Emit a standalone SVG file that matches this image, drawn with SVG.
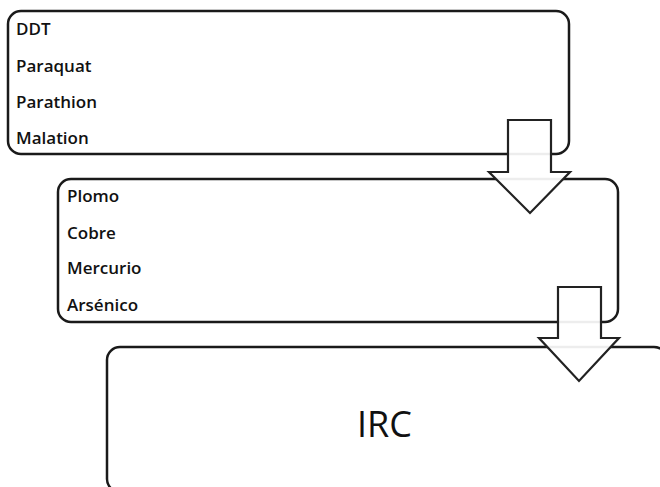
<svg xmlns="http://www.w3.org/2000/svg" width="660" height="487" viewBox="0 0 660 487">
<style>
.box{fill:#fff;stroke:#1a1a1a;stroke-width:2.5}
.lbl{font-family:"Open Sans","Liberation Sans",sans-serif;font-weight:600;font-size:17px;fill:#111}
.big{font-family:"Open Sans","Liberation Sans",sans-serif;font-size:36px;fill:#111}
.arr{fill:#fff;fill-opacity:0.92;stroke:#222;stroke-width:2.2;stroke-linejoin:miter}
</style>
<rect width="660" height="487" fill="#fff"/>
<g id="node-pesticidas">
<rect class="box" x="8" y="11" width="561" height="143" rx="13"/>
<text class="lbl" x="16" y="35">DDT</text>
<text class="lbl" x="16" y="72">Paraquat</text>
<text class="lbl" x="16" y="108">Parathion</text>
<text class="lbl" x="16" y="144">Malation</text>
</g>
<g id="node-metales">
<rect class="box" x="58" y="179" width="560" height="143" rx="13"/>
<text class="lbl" x="67" y="202">Plomo</text>
<text class="lbl" x="67" y="239">Cobre</text>
<text class="lbl" x="67" y="274">Mercurio</text>
<text class="lbl" x="67" y="311">Arsénico</text>
</g>
<g id="node-irc">
<rect class="box" x="107" y="347" width="560" height="145" rx="13"/>
<text class="big" x="357" y="437">IRC</text>
</g>
<g id="connectors">
<polygon class="arr" points="508,120 551,120 551,172 570,172 530,213 489,172 508,172"/>
<polygon class="arr" points="558,287 601,287 601,338 619,338 579,381 539,338 558,338"/>
</g>
</svg>
